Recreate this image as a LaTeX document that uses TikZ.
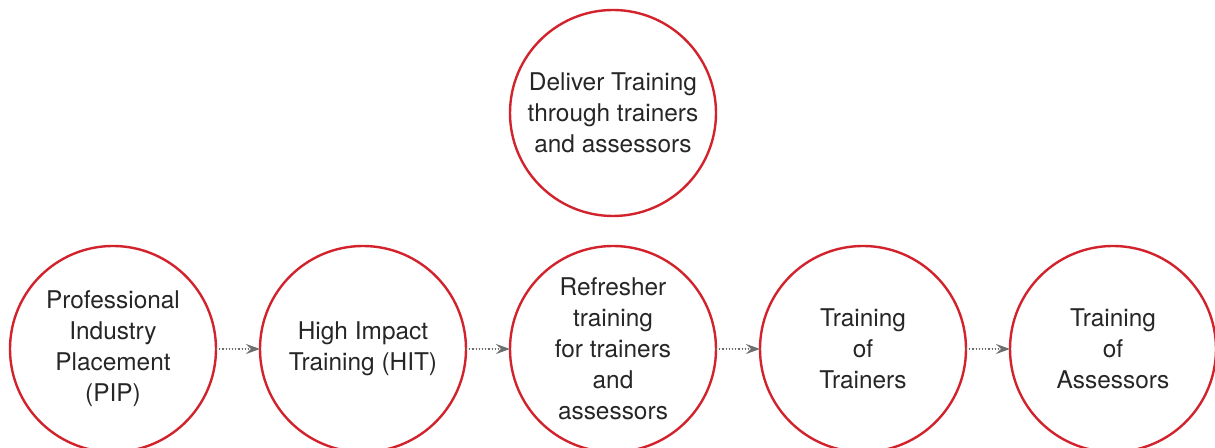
\documentclass[tikz,border=0pt]{standalone}
\usepackage{fontspec}
\setmainfont{TeX Gyre Heros}
\usetikzlibrary{arrows.meta, positioning}
\definecolor{ringred}{RGB}{210,35,45}
\definecolor{arrowgray}{RGB}{110,110,110}

\begin{document}
\begin{tikzpicture}[
  x=0.5pt, y=0.5pt,
  node distance=22pt,
  stage/.style={circle, draw=ringred, line width=1.2pt, minimum size=103pt, inner sep=0pt, outer sep=0pt, align=center, font=\fontsize{12.2}{15.5}\selectfont, text=black!85},
  arrow/.style={-{Stealth[length=7pt, width=5pt, inset=2.5pt]}, densely dotted, line width=0.6pt, draw=arrowgray, fill=arrowgray}
]
  \useasboundingbox (0,0) rectangle (1215,448);
  % Training pipeline
  \node[stage] (pip) at (113,99) {Professional\\Industry\\Placement\\(PIP)};
  \node[stage, right=of pip] (hit) {High Impact\\Training (HIT)};
  \node[stage, right=of hit] (refresh) {Refresher\\training\\for trainers\\and\\assessors};
  \node[stage, right=of refresh] (tot) {Training\\of\\Trainers};
  \node[stage, right=of tot] (toa) {Training\\of\\Assessors};
  \node[stage, above=15pt of refresh] (deliver) {Deliver Training\\through trainers\\and assessors};

  \draw[arrow] (pip) -- (hit);
  \draw[arrow] (hit) -- (refresh);
  \draw[arrow] (refresh) -- (tot);
  \draw[arrow] (tot) -- (toa);
\end{tikzpicture}
\end{document}
